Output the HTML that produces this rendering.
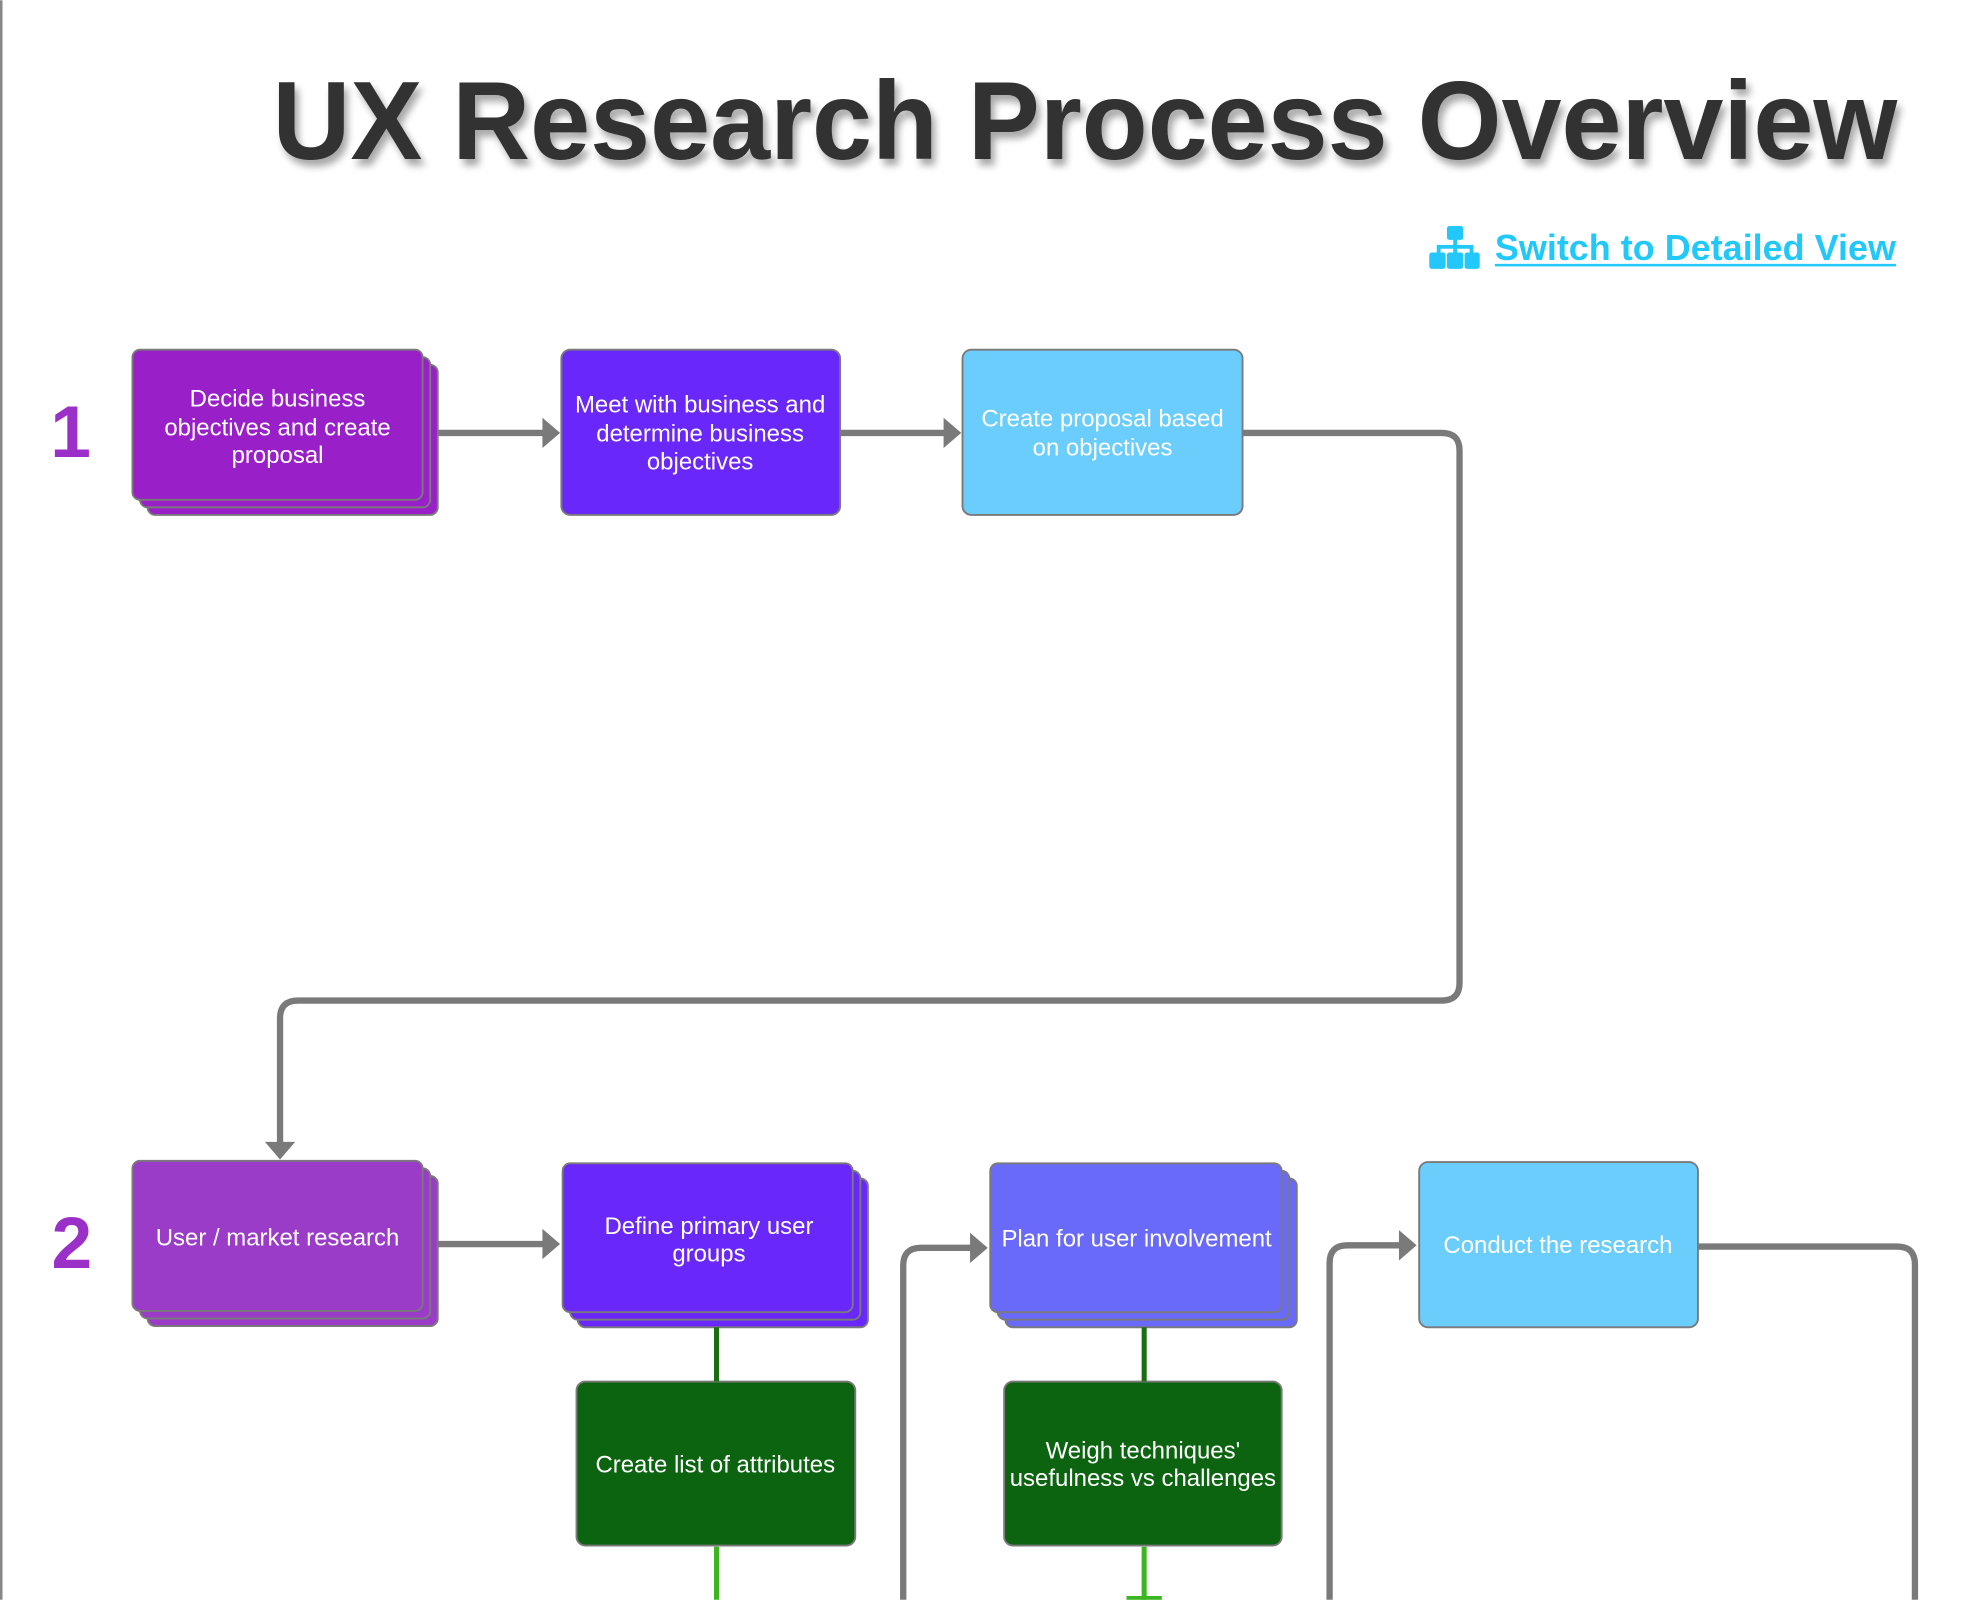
<!DOCTYPE html>
<html><head><meta charset="utf-8"><style>
html,body{margin:0;padding:0;background:#fff;width:1978px;height:1600px;overflow:hidden}
svg{display:block}
text{font-family:"Liberation Sans",sans-serif}
</style></head><body>
<svg width="1978" height="1600" viewBox="0 0 1568 1268" xmlns="http://www.w3.org/2000/svg">
<defs>
<filter id="sh" x="-5%" y="-20%" width="110%" height="150%"><feGaussianBlur in="SourceAlpha" stdDeviation="3"/><feOffset dx="3" dy="5"/><feComponentTransfer><feFuncA type="linear" slope="0.35"/></feComponentTransfer><feMerge><feMergeNode/><feMergeNode in="SourceGraphic"/></feMerge></filter>
</defs>
<line x1="1" y1="0" x2="1" y2="1268" stroke="#888" stroke-width="2"/>
<text x="860" y="126" text-anchor="middle" font-size="88" font-weight="bold" fill="#333" textLength="1288" lengthAdjust="spacingAndGlyphs" filter="url(#sh)">UX Research Process Overview</text>
<!-- icon -->
<g fill="#22c8fa">
<rect x="1147" y="179" width="13" height="11" rx="2"/>
<rect x="1152" y="189" width="3" height="7"/>
<rect x="1139" y="194" width="29" height="3"/>
<rect x="1139" y="194" width="3" height="7"/><rect x="1152" y="194" width="3" height="7"/><rect x="1165" y="194" width="3" height="7"/>
<rect x="1133" y="200" width="13" height="13" rx="2"/><rect x="1147" y="200" width="13" height="13" rx="2"/><rect x="1161" y="200" width="12" height="13" rx="2"/>
</g>
<text x="1185" y="206" font-size="29" font-weight="bold" fill="#22c8fa" textLength="318" lengthAdjust="spacingAndGlyphs">Switch to Detailed View</text>
<rect x="1185" y="209" width="318" height="2" fill="#22c8fa"/>
<text x="56" y="362" text-anchor="middle" font-size="58" font-weight="bold" fill="#9b30c8">1</text>
<text x="57" y="1005" text-anchor="middle" font-size="58" font-weight="bold" fill="#9b30c8">2</text>
<g stroke="#7a7a7a" stroke-width="5" fill="none">
<line x1="347" y1="343" x2="432" y2="343"/>
<line x1="666" y1="343" x2="750" y2="343"/>
<path d="M985 343 H1143 Q1157 343 1157 357 V779 Q1157 793 1143 793 H236 Q222 793 222 807 V906"/>
<line x1="347" y1="986" x2="432" y2="986"/>
<path d="M716 1268 V1003 Q716 989 730 989 H771"/>
<path d="M1054 1268 V1001 Q1054 987 1068 987 H1111"/>
<path d="M1346 988 H1504 Q1518 988 1518 1002 V1268"/>
</g>
<g fill="#7a7a7a">
<polygon points="430,331 444,343 430,355"/>
<polygon points="748,331 762,343 748,355"/>
<polygon points="210,905 222,919 234,905"/>
<polygon points="430,974 444,986 430,998"/>
<polygon points="769,977 783,989 769,1001"/>
<polygon points="1109,975 1123,987 1109,999"/>
</g>
<g stroke="#7a7a7a" stroke-width="1.5">
<rect x="117" y="289" width="230" height="119" rx="6" fill="#991fc9"/>
<rect x="111" y="283" width="230" height="119" rx="6" fill="#991fc9"/>
<rect x="105" y="277" width="230" height="119" rx="6" fill="#991fc9"/>
<rect x="445" y="277" width="221" height="131" rx="7" fill="#6927fa"/>
<rect x="763" y="277" width="222" height="131" rx="7" fill="#6bcdfc"/>
<rect x="117" y="932" width="230" height="119" rx="6" fill="#9a3cc8"/>
<rect x="111" y="926" width="230" height="119" rx="6" fill="#9a3cc8"/>
<rect x="105" y="920" width="230" height="119" rx="6" fill="#9a3cc8"/>
<rect x="458" y="934" width="230" height="118" rx="6" fill="#6927fa"/>
<rect x="452" y="928" width="230" height="118" rx="6" fill="#6927fa"/>
<rect x="446" y="922" width="230" height="118" rx="6" fill="#6927fa"/>
<rect x="797" y="934" width="231" height="118" rx="6" fill="#6a6afa"/>
<rect x="791" y="928" width="231" height="118" rx="6" fill="#6a6afa"/>
<rect x="785" y="922" width="231" height="118" rx="6" fill="#6a6afa"/>
<rect x="1125" y="921" width="221" height="131" rx="7" fill="#6bcdfc"/>
<rect x="457" y="1095" width="221" height="130" rx="7" fill="#0c6410"/>
<rect x="796" y="1095" width="220" height="130" rx="7" fill="#0c6410"/>
</g>
<g stroke-width="4">
<line x1="568" y1="1052" x2="568" y2="1095" stroke="#1a6e12"/>
<line x1="568" y1="1226" x2="568" y2="1268" stroke="#3cb520"/>
<line x1="907" y1="1052" x2="907" y2="1095" stroke="#1a6e12"/>
<line x1="907" y1="1226" x2="907" y2="1268" stroke="#3cb520"/>
</g>
<rect x="893" y="1265" width="28" height="3" fill="#3cb520"/>
<g fill="#fff" font-size="19" text-anchor="middle">
<text x="220" y="322">Decide business</text>
<text x="220" y="345">objectives and create</text>
<text x="220" y="367">proposal</text>
<text x="555" y="327">Meet with business and</text>
<text x="555" y="350">determine business</text>
<text x="555" y="372">objectives</text>
<text x="874" y="338">Create proposal based</text>
<text x="874" y="361">on objectives</text>
<text x="220" y="987">User / market research</text>
<text x="562" y="978">Define primary user</text>
<text x="562" y="1000">groups</text>
<text x="901" y="988">Plan for user involvement</text>
<text x="1235" y="993">Conduct the research</text>
<text x="567" y="1167">Create list of attributes</text>
<text x="906" y="1156">Weigh techniques'</text>
<text x="906" y="1178">usefulness vs challenges</text>
</g>
</svg>
</body></html>
